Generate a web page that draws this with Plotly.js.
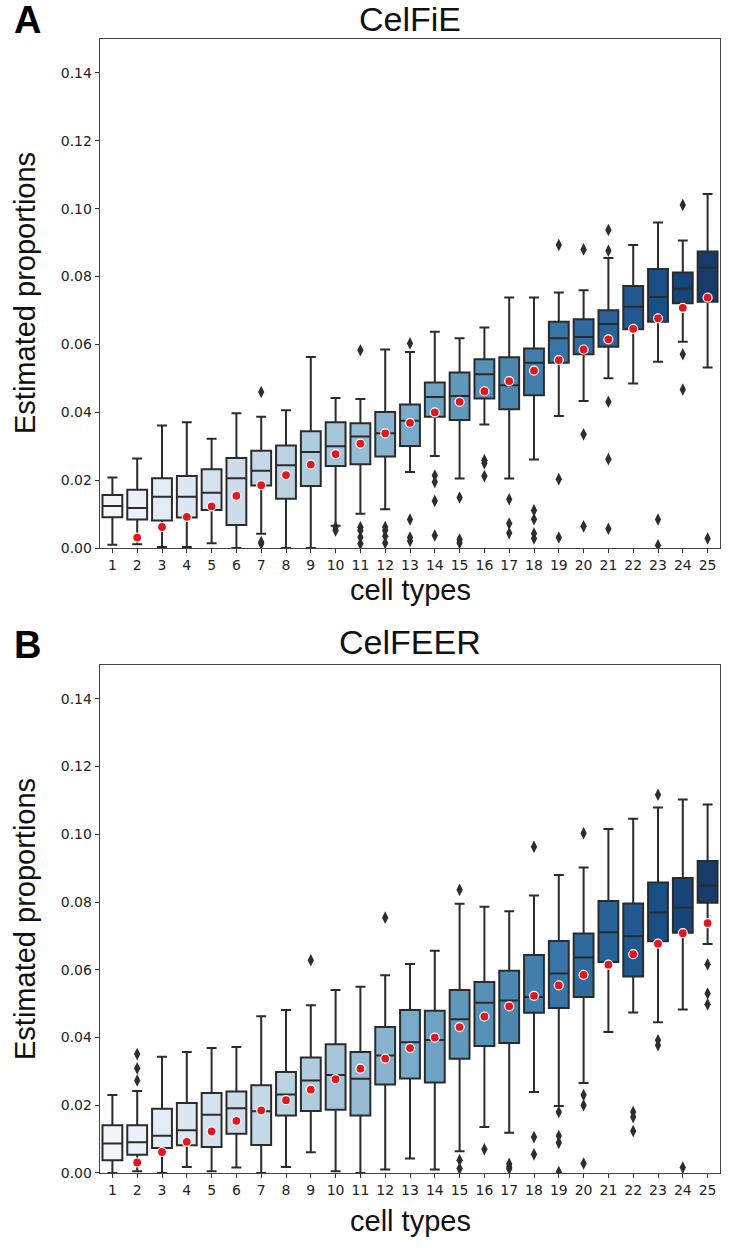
<!DOCTYPE html>
<html>
<head>
<meta charset="utf-8">
<script src="https://cdn.plot.ly/plotly-3.0.1.min.js"></script>
<style>
  body { margin: 0; background: #fff; }
  #grafikoa { width: 735px; height: 1248px; }
</style>
</head>
<body>
<div id="grafikoa"></div>
<script>
// cell types on the x axis
let cellTypes = [1, 2, 3, 4, 5, 6, 7, 8, 9, 10, 11, 12, 13, 14, 15, 16, 17, 18, 19, 20, 21, 22, 23, 24, 25]

// true proportions (red dots), same in both panels
let trueProp = [null, 0.0031, 0.0062, 0.0092, 0.0123, 0.0154, 0.0185, 0.0215, 0.0246, 0.0277, 0.0308, 0.0338, 0.0369,
    0.0400, 0.0431, 0.0462, 0.0492, 0.0523, 0.0554, 0.0585, 0.0615, 0.0646, 0.0677, 0.0708, 0.0738]

// CelFiE box stats
let lowA  = [0.0010, 0.0011, 0.0003, 0.0003, 0.0014, 0.0000, 0.0042, 0.0000, 0.0000, 0.0066, 0.0101, 0.0114, 0.0224,
    0.0271, 0.0205, 0.0364, 0.0205, 0.0261, 0.0389, 0.0433, 0.0500, 0.0485, 0.0549, 0.0608, 0.0532]
let q1A   = [0.0091, 0.0084, 0.0081, 0.0090, 0.0112, 0.0068, 0.0184, 0.0145, 0.0183, 0.0242, 0.0247, 0.0270, 0.0301,
    0.0387, 0.0377, 0.0441, 0.0409, 0.0450, 0.0546, 0.0571, 0.0593, 0.0645, 0.0667, 0.0721, 0.0726]
let medA  = [0.0124, 0.0118, 0.0151, 0.0151, 0.0163, 0.0206, 0.0228, 0.0244, 0.0283, 0.0300, 0.0329, 0.0338, 0.0375,
    0.0445, 0.0448, 0.0512, 0.0480, 0.0546, 0.0618, 0.0622, 0.0660, 0.0711, 0.0740, 0.0764, 0.0826]
let q3A   = [0.0156, 0.0172, 0.0206, 0.0212, 0.0232, 0.0265, 0.0287, 0.0302, 0.0344, 0.0371, 0.0368, 0.0401, 0.0423,
    0.0488, 0.0517, 0.0556, 0.0562, 0.0588, 0.0667, 0.0674, 0.0701, 0.0772, 0.0822, 0.0812, 0.0874]
let highA = [0.0208, 0.0264, 0.0361, 0.0371, 0.0322, 0.0397, 0.0387, 0.0406, 0.0563, 0.0442, 0.0439, 0.0585, 0.0578,
    0.0637, 0.0618, 0.0650, 0.0738, 0.0738, 0.0753, 0.0760, 0.0855, 0.0893, 0.0959, 0.0906, 0.1043]
let fliersA = [[], [], [], [], [], [], [0.0460, 0.0018, 0.0013], [], [], [0.0062, 0.0052],
    [0.0583, 0.0061, 0.0052, 0.0032, 0.0013], [0.0062, 0.0052, 0.0035, 0.0015], [0.0603, 0.0084, 0.0031, 0.0021],
    [0.0214, 0.0195, 0.0139, 0.0037], [0.0149, 0.0025, 0.0015], [0.0259, 0.0250, 0.0212], [0.0144, 0.0072, 0.0044],
    [0.0111, 0.0085, 0.0043, 0.0028], [0.0893, 0.0203, 0.0031], [0.0880, 0.0335, 0.0064],
    [0.0937, 0.0876, 0.0431, 0.0262, 0.0057], [], [0.0084, 0.0008], [0.1011, 0.0571, 0.0467], [0.0028]]

// CelFEER box stats
let lowB  = [0.0000, 0.0005, 0.0000, 0.0018, 0.0005, 0.0016, 0.0000, 0.0018, 0.0061, 0.0005, 0.0000, 0.0010, 0.0043,
    0.0010, 0.0064, 0.0136, 0.0119, 0.0239, 0.0198, 0.0266, 0.0416, 0.0474, 0.0445, 0.0483, 0.0676]
let q1B   = [0.0038, 0.0054, 0.0074, 0.0082, 0.0077, 0.0116, 0.0083, 0.0170, 0.0183, 0.0187, 0.0170, 0.0261, 0.0279,
    0.0267, 0.0337, 0.0375, 0.0384, 0.0473, 0.0487, 0.0520, 0.0623, 0.0580, 0.0684, 0.0709, 0.0798]
let medB  = [0.0087, 0.0091, 0.0110, 0.0126, 0.0172, 0.0191, 0.0182, 0.0232, 0.0273, 0.0289, 0.0278, 0.0347, 0.0386,
    0.0393, 0.0454, 0.0503, 0.0509, 0.0520, 0.0589, 0.0636, 0.0711, 0.0699, 0.0769, 0.0783, 0.0849]
let q3B   = [0.0141, 0.0141, 0.0190, 0.0207, 0.0236, 0.0241, 0.0259, 0.0298, 0.0341, 0.0380, 0.0357, 0.0431, 0.0481,
    0.0479, 0.0540, 0.0564, 0.0597, 0.0644, 0.0685, 0.0707, 0.0803, 0.0796, 0.0858, 0.0871, 0.0921]
let highB = [0.0230, 0.0242, 0.0343, 0.0357, 0.0369, 0.0372, 0.0463, 0.0481, 0.0495, 0.0540, 0.0550, 0.0584, 0.0617,
    0.0656, 0.0795, 0.0786, 0.0773, 0.0819, 0.0880, 0.0902, 0.1016, 0.1046, 0.1079, 0.1103, 0.1088]
let fliersB = [[], [0.0351, 0.0309, 0.0273], [], [], [], [], [], [], [0.0628], [], [], [0.0754], [],
    [], [0.0836, 0.0038, 0.0013], [0.0070], [0.0027, 0.0018, 0.0012], [0.0963, 0.0106, 0.0055],
    [0.0180, 0.0109, 0.0089, 0.0003], [0.1003, 0.0230, 0.0200, 0.0028], [], [0.0180, 0.0165, 0.0124],
    [0.1117, 0.0392, 0.0377], [0.0016], [0.0616, 0.0530, 0.0498]]

let yTicks = [0, 0.02, 0.04, 0.06, 0.08, 0.10, 0.12, 0.14]

// "Blues" colour map, desaturated a bit like seaborn does
let bluesStops = ['#f7fbff', '#deebf7', '#c6dbef', '#9ecae1', '#6baed6', '#4292c6', '#2171b5', '#08519c', '#08306b']

function hexRgb(h){
    return [parseInt(h.substr(1, 2), 16), parseInt(h.substr(3, 2), 16), parseInt(h.substr(5, 2), 16)]
}

function blues(t){
    let p = t * (bluesStops.length - 1)
    let i = Math.min(Math.floor(p), bluesStops.length - 2)
    let f = p - i
    let a = hexRgb(bluesStops[i]), b = hexRgb(bluesStops[i + 1])
    return [0, 1, 2].map(k => (a[k] + (b[k] - a[k]) * f) / 255)
}

function desaturate(c, prop){
    let r = c[0], g = c[1], b = c[2]
    let mx = Math.max(r, g, b), mn = Math.min(r, g, b)
    let l = (mx + mn) / 2, h = 0, s = 0
    if (mx != mn){
        let d = mx - mn
        s = l > 0.5 ? d / (2 - mx - mn) : d / (mx + mn)
        if (mx == r) h = (g - b) / d + (g < b ? 6 : 0)
        else if (mx == g) h = (b - r) / d + 2
        else h = (r - g) / d + 4
        h /= 6
    }
    s *= prop
    function hue(p, q, t){
        if (t < 0) t += 1
        if (t > 1) t -= 1
        if (t < 1/6) return p + (q - p) * 6 * t
        if (t < 1/2) return q
        if (t < 2/3) return p + (q - p) * (2/3 - t) * 6
        return p
    }
    let q = l < 0.5 ? l * (1 + s) : l + s - l * s
    let p = 2 * l - q
    let out = [hue(p, q, h + 1/3), hue(p, q, h), hue(p, q, h - 1/3)]
    return 'rgb(' + out.map(v => Math.round(v * 255)).join(',') + ')'
}

let boxColors = cellTypes.map((c, i) => desaturate(blues((i + 1) / (cellTypes.length + 1)), 0.75))

function panel(low, q1, med, q3, high, fliers, xa, ya){
    let traces = []
    cellTypes.forEach(function(c, i){
        traces.push({
            type: 'box', x: [c], q1: [q1[i]], median: [med[i]], q3: [q3[i]],
            lowerfence: [low[i]], upperfence: [high[i]],
            width: 0.8, whiskerwidth: 0.5, boxpoints: false,
            fillcolor: boxColors[i], line: {color: '#2b2b2b', width: 2},
            xaxis: xa, yaxis: ya, hoverinfo: 'skip'
        })
    })
    let fx = [], fy = []
    cellTypes.forEach(function(c, i){
        fliers[i].forEach(function(v){ fx.push(c); fy.push(v) })
    })
    traces.push({
        type: 'scatter', mode: 'markers', x: fx, y: fy, xaxis: xa, yaxis: ya,
        marker: {symbol: 'diamond-tall', size: 9, color: '#2d2d2d'}, hoverinfo: 'skip'
    })
    traces.push({
        type: 'scatter', mode: 'markers', x: cellTypes, y: trueProp, xaxis: xa, yaxis: ya,
        marker: {size: 9, color: '#e3161d', line: {color: '#ffffff', width: 1.2}}, hoverinfo: 'skip'
    })
    return traces
}

let data = panel(lowA, q1A, medA, q3A, highA, fliersA, 'x', 'y')
    .concat(panel(lowB, q1B, medB, q3B, highB, fliersB, 'x2', 'y2'))

let xBase = {
    range: [0.5, 25.5], tickvals: cellTypes, ticks: 'outside', ticklen: 4, tickcolor: '#333',
    showline: true, mirror: true, linecolor: '#444', linewidth: 1.3, showgrid: false, zeroline: false,
    tickfont: {family: 'DejaVu Sans', size: 14, color: '#222'}
}
let yBase = {
    range: [0, 0.15], tickvals: yTicks, tickformat: '.2f', ticks: 'outside', ticklen: 4, tickcolor: '#333',
    showline: true, mirror: true, linecolor: '#444', linewidth: 1.3, showgrid: false, zeroline: false,
    tickfont: {family: 'DejaVu Sans', size: 14, color: '#222'}
}

// pixel -> paper helpers (plot area is 100..720 x 39..1173)
function px(x){ return (x - 100) / 620 }
function py(y){ return (1173 - y) / 1134 }

let labelFont = {family: 'Liberation Sans, Arial', size: 29, color: '#111'}
let titleFont = {family: 'Liberation Sans, Arial', size: 34, color: '#111'}
let letterFont = {family: 'Liberation Sans, Arial', size: 38, color: '#000'}

function note(text, x, y, font, angle){
    return {text: text, xref: 'paper', yref: 'paper', x: px(x), y: py(y), xanchor: 'center', yanchor: 'middle',
        showarrow: false, font: font, textangle: angle || 0}
}

let layout = {
    width: 735, height: 1248, showlegend: false, boxmode: 'overlay',
    paper_bgcolor: '#ffffff', plot_bgcolor: '#ffffff',
    margin: {l: 100, r: 15, t: 39, b: 75},
    xaxis: Object.assign({}, xBase, {domain: [0, 1], anchor: 'y'}),
    yaxis: Object.assign({}, yBase, {domain: [0.5511, 1], anchor: 'x'}),
    xaxis2: Object.assign({}, xBase, {domain: [0, 1], anchor: 'y2'}),
    yaxis2: Object.assign({}, yBase, {domain: [0, 0.448], anchor: 'x2'}),
    annotations: [
        note('CelFiE', 410, 19, titleFont),
        note('CelFEER', 410, 642, titleFont),
        note('<b>A</b>', 27, 20, letterFont),
        note('<b>B</b>', 27, 645, letterFont),
        note('cell types', 410, 590, labelFont),
        note('cell types', 410, 1221, labelFont),
        note('Estimated proportions', 25, 293, labelFont, -90),
        note('Estimated proportions', 25, 919, labelFont, -90)
    ]
}

Plotly.newPlot('grafikoa', data, layout, {displayModeBar: false, staticPlot: true})
</script>
</body>
</html>
